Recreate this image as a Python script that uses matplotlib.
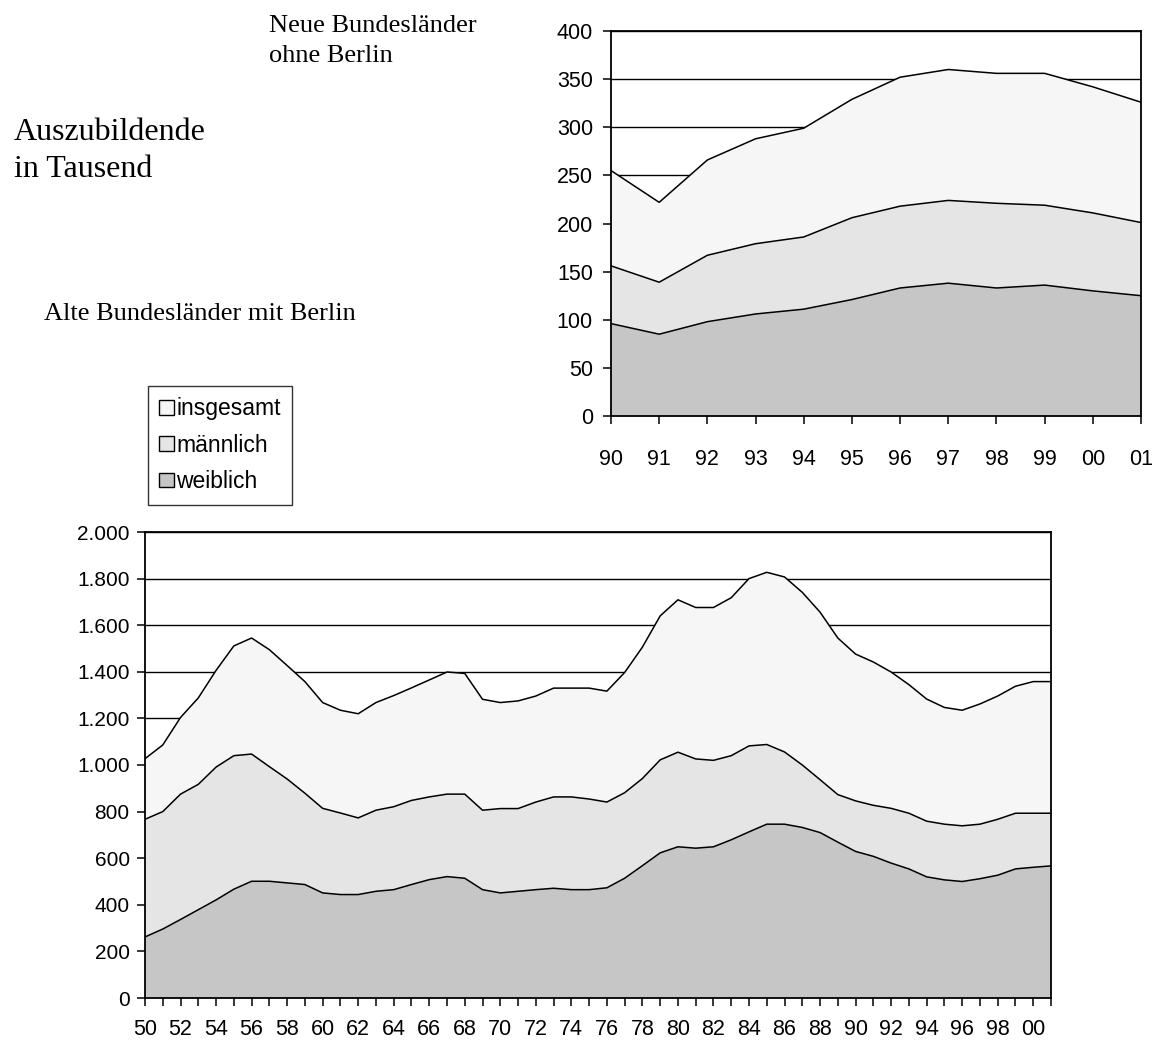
import matplotlib
matplotlib.use('Agg')
import matplotlib.pyplot as plt
from matplotlib.patches import Patch
from matplotlib.ticker import FixedLocator

# ---------------- data ----------------
neu_jahre = list(range(1990, 2002))
neu_insgesamt = [255, 222, 266, 288, 299, 329, 352, 360, 356, 356, 342, 326]
neu_maennlich = [156, 139, 167, 179, 186, 206, 218, 224, 221, 219, 211, 201]
neu_weiblich = [96, 85, 98, 106, 111, 121, 133, 138, 133, 136, 130, 125]
neu_yticks = [0, 50, 100, 150, 200, 250, 300, 350, 400]
neu_xlabels = ['90', '91', '92', '93', '94', '95', '96', '97', '98', '99', '00', '01']

alt_jahre = list(range(1950, 2002))
alt_insgesamt = [1027, 1086, 1204, 1288, 1406, 1511, 1545, 1495, 1427, 1358,
                 1268, 1235, 1220, 1268, 1298, 1331, 1365, 1399, 1393, 1282,
                 1268, 1275, 1296, 1330, 1330, 1330, 1317, 1397, 1506, 1640,
                 1709, 1676, 1676, 1718, 1800, 1827, 1807, 1741, 1656, 1545,
                 1476, 1442, 1399, 1345, 1283, 1247, 1235, 1262, 1296, 1338,
                 1358, 1358]
alt_maennlich = [767, 800, 875, 917, 991, 1040, 1047, 993, 940, 879,
                 814, 794, 773, 806, 821, 848, 863, 875, 875, 806,
                 813, 813, 841, 863, 863, 854, 841, 881, 942, 1022,
                 1055, 1026, 1020, 1040, 1082, 1088, 1056, 1000, 937, 873,
                 846, 827, 814, 793, 759, 746, 739, 746, 767, 793,
                 793, 793]
alt_weiblich = [262, 296, 337, 379, 421, 467, 501, 501, 494, 487,
                451, 444, 444, 458, 465, 487, 508, 521, 514, 465,
                451, 458, 465, 471, 465, 465, 473, 514, 568, 623,
                649, 643, 649, 679, 713, 746, 746, 732, 710, 669,
                629, 608, 579, 554, 520, 507, 500, 512, 527, 554,
                561, 567]
alt_yticks = [0, 200, 400, 600, 800, 1000, 1200, 1400, 1600, 1800, 2000]
alt_ylabels = ['0', '200', '400', '600', '800', '1.000', '1.200', '1.400',
               '1.600', '1.800', '2.000']
alt_xlabels = ['%02d' % (j % 100) if j % 2 == 0 and j < 2001 else '' for j in alt_jahre]

serien = ['insgesamt', 'männlich', 'weiblich']
farben = ['#f6f6f6', '#e5e5e5', '#c6c6c6']

# ---------------- figure ----------------
W, H = 1158, 1044
fig = plt.figure(figsize=(W / 100, H / 100), dpi=100)
SANS = 'Liberation Sans'
SERIF = 'Liberation Serif'


def rect(l, t, r, b):
    return [l / W, 1 - b / H, (r - l) / W, (b - t) / H]


def draw(ax, x, series, yticks, ylabels, xlabels, ymax, xpad, ypad, xsize, ysize):
    for vals, col in zip(series, farben):
        ax.fill_between(x, 0, vals, facecolor=col, linewidth=0, zorder=2)
        ax.plot(x, vals, color='black', linewidth=1.1, zorder=3)
    ax.set_xlim(x[0], x[-1])
    ax.set_ylim(0, ymax)
    ax.set_yticks(yticks)
    ax.set_yticklabels(ylabels)
    ax.xaxis.set_major_locator(FixedLocator(x))
    ax.set_xticklabels(xlabels)
    ax.yaxis.grid(True, color='black', linewidth=1.0, zorder=1)
    ax.set_axisbelow(True)
    for s in ax.spines.values():
        s.set_color('black')
        s.set_linewidth(1.3)
        s.set_zorder(4)
    ax.tick_params(axis='both', direction='out', length=6, width=1.1,
                   colors='black')
    ax.tick_params(axis='y', pad=ypad, labelsize=ysize)
    ax.tick_params(axis='x', pad=xpad, labelsize=xsize)
    for lab in ax.get_xticklabels() + ax.get_yticklabels():
        lab.set_fontfamily(SANS)


ax1 = fig.add_axes(rect(611, 31, 1141, 416))
draw(ax1, neu_jahre, [neu_insgesamt, neu_maennlich, neu_weiblich],
     neu_yticks, [str(v) for v in neu_yticks], neu_xlabels, 400, 18, 7, 15.5, 15.5)

ax2 = fig.add_axes(rect(145, 532, 1051, 998))
draw(ax2, alt_jahre, [alt_insgesamt, alt_maennlich, alt_weiblich],
     alt_yticks, alt_ylabels, alt_xlabels, 2000, 9, 5, 15.5, 15)

# ---------------- texts ----------------
def ftext(x, y, s, size):
    fig.text(x / W, 1 - y / H, s, fontsize=size, family=SERIF,
             ha='left', va='baseline', color='black')


ftext(269, 32, 'Neue Bundesländer', 19)
ftext(269, 62, 'ohne Berlin', 19)
ftext(14, 140, 'Auszubildende', 23)
ftext(14, 177, 'in Tausend', 23)
ftext(44, 320, 'Alte Bundesländer mit Berlin', 19)

# ---------------- legend ----------------
handles = [Patch(facecolor=c, edgecolor='black', linewidth=1.0) for c in farben]
leg = fig.legend(handles, serien, loc='upper left',
                 bbox_to_anchor=(148 / W, 1 - 386 / H), borderaxespad=0,
                 frameon=True, fancybox=False, shadow=False,
                 prop={'family': SANS, 'size': 16.5},
                 handlelength=0.62, handleheight=0.62, handletextpad=0.12,
                 labelspacing=0.58, borderpad=0.5)
leg.get_frame().set_edgecolor('black')
leg.get_frame().set_linewidth(1.0)

fig.savefig('out.png', dpi=100, facecolor='white')
